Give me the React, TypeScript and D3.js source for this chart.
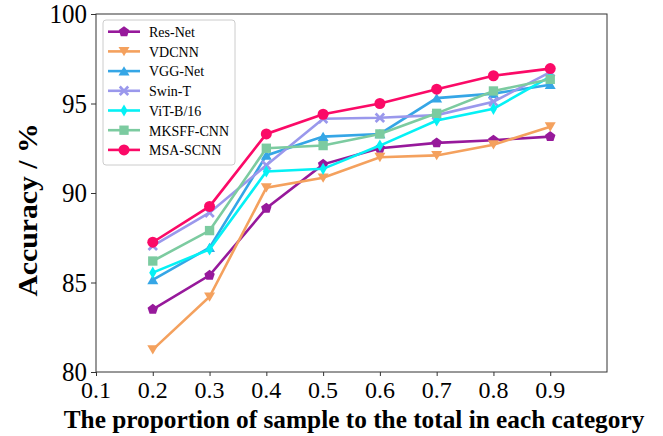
import { useEffect, useRef } from "react";
import * as d3 from "d3";

// x positions (proportion of samples)
const proportions = [0.2, 0.3, 0.4, 0.5, 0.6, 0.7, 0.8, 0.9];
const xTicks = [0.1, 0.2, 0.3, 0.4, 0.5, 0.6, 0.7, 0.8, 0.9];
const yTicks = [80, 85, 90, 95, 100];

const resNet = [83.5, 85.4, 89.15, 91.6, 92.5, 92.8, 92.95, 93.15];
const vdcnn = [81.25, 84.2, 90.3, 90.85, 92.0, 92.1, 92.7, 93.7];
const vggNet = [85.15, 86.95, 92.1, 93.15, 93.3, 95.3, 95.55, 96.05];
const swinT = [87.05, 88.9, 91.55, 94.15, 94.2, 94.35, 95.1, 96.75];
const vit = [85.55, 86.85, 91.2, 91.35, 92.65, 94.05, 94.7, 96.5];
const mksff = [86.2, 87.9, 92.5, 92.65, 93.3, 94.45, 95.7, 96.35];
const msaScnn = [87.25, 89.25, 93.3, 94.4, 95.0, 95.8, 96.55, 96.95];

const seriesNames = ["Res-Net", "VDCNN", "VGG-Net", "Swin-T", "ViT-B/16", "MKSFF-CNN", "MSA-SCNN"];
const seriesValues = [resNet, vdcnn, vggNet, swinT, vit, mksff, msaScnn];
const seriesColors = ["#97199b", "#f4a15e", "#35a6e6", "#9a98ec", "#05f1f5", "#7ccba0", "#fb0a67"];
const seriesMarkers = ["pentagon", "triDown", "triUp", "x", "diamond", "square", "circle"];

const W = 663;
const H = 436;
const margin = { top: 14, right: 56, bottom: 64, left: 96 };
const FONT = "'Liberation Serif', 'Times New Roman', serif";
const STRETCH = 1.1; // the original figure's text looks a bit taller than wide

function markerPath(kind: string, r: number): string {
  const pts = (arr: [number, number][]) => "M" + arr.map(p => p.join(",")).join("L") + "Z";
  switch (kind) {
    case "pentagon": {
      const a: [number, number][] = d3.range(5).map(i => {
        const t = -Math.PI / 2 + (i * 2 * Math.PI) / 5;
        return [r * Math.cos(t), r * Math.sin(t)];
      });
      return pts(a);
    }
    case "triDown":
      return pts([[-r, -r * 0.8], [r, -r * 0.8], [0, r * 0.9]]);
    case "triUp":
      return pts([[-r, r * 0.8], [r, r * 0.8], [0, -r * 0.9]]);
    case "diamond":
      return pts([[0, -r * 1.1], [r * 0.65, 0], [0, r * 1.1], [-r * 0.65, 0]]);
    case "square":
      return pts([[-r * 0.85, -r * 0.85], [r * 0.85, -r * 0.85], [r * 0.85, r * 0.85], [-r * 0.85, r * 0.85]]);
    case "x": {
      const a = r * 0.95, b = r * 0.35;
      return pts([
        [-a, -a + b], [-a + b, -a], [0, -b], [a - b, -a], [a, -a + b], [b, 0],
        [a, a - b], [a - b, a], [0, b], [-a + b, a], [-a, a - b], [-b, 0],
      ]);
    }
    default:
      return d3.symbol(d3.symbolCircle, Math.PI * r * r)() as string;
  }
}

export default function App() {
  const ref = useRef<SVGSVGElement>(null);

  useEffect(() => {
    if (!ref.current) return;
    const svg = d3.select(ref.current);
    svg.selectAll("*").remove();

    const x = d3.scaleLinear().domain([0.1, 1.0]).range([margin.left, W - margin.right]);
    const y = d3.scaleLinear().domain([80, 100]).range([H - margin.bottom, margin.top]);

    // frame
    svg.append("rect")
      .attr("x", margin.left)
      .attr("y", margin.top)
      .attr("width", W - margin.left - margin.right)
      .attr("height", H - margin.top - margin.bottom)
      .attr("fill", "none")
      .attr("stroke", "#333")
      .attr("stroke-width", 1);

    // tick marks
    const xAxis = svg.append("g")
      .attr("transform", `translate(0,${H - margin.bottom})`)
      .call(d3.axisBottom(x).tickValues(xTicks).tickFormat(() => "").tickSize(4));
    xAxis.select(".domain").remove();
    xAxis.selectAll("line").attr("stroke", "#333");

    const yAxis = svg.append("g")
      .attr("transform", `translate(${margin.left},0)`)
      .call(d3.axisLeft(y).tickValues(yTicks).tickFormat(() => "").tickSize(5));
    yAxis.select(".domain").remove();
    yAxis.selectAll("line").attr("stroke", "#333");

    // tick labels
    svg.append("g").selectAll("text")
      .data(xTicks)
      .enter()
      .append("text")
      .attr("x", d => x(d))
      .attr("y", H - margin.bottom + 26)
      .attr("text-anchor", "middle")
      .style("font-family", FONT)
      .style("font-size", "24px")
      .text(d => d3.format(".1f")(d));

    svg.append("g").selectAll("text")
      .data(yTicks)
      .enter()
      .append("text")
      .attr("transform", d => `translate(${margin.left - 9},${y(d)}) scale(1,${STRETCH})`)
      .attr("text-anchor", "end")
      .attr("dy", "0.34em")
      .style("font-family", FONT)
      .style("font-size", "25px")
      .text(d => d);

    // axis titles
    svg.append("text")
      .attr("x", 354)
      .attr("y", 428)
      .attr("text-anchor", "middle")
      .style("font-family", FONT)
      .style("font-size", "25.3px")
      .style("font-weight", "bold")
      .text("The proportion of sample to the total in each category");

    svg.append("text")
      .attr("transform", `translate(37,210) scale(1,${STRETCH}) rotate(-90)`)
      .attr("text-anchor", "middle")
      .style("font-family", FONT)
      .style("font-size", "27px")
      .style("font-weight", "bold")
      .text("Accuracy / %");

    const line = d3.line<number>()
      .x((_, i) => x(proportions[i]))
      .y(d => y(d));

    seriesValues.forEach((vals, si) => {
      const g = svg.append("g");
      g.append("path")
        .attr("d", line(vals))
        .attr("fill", "none")
        .attr("stroke", seriesColors[si])
        .attr("stroke-width", 2.6);
      g.selectAll("path.m")
        .data(vals)
        .enter()
        .append("path")
        .attr("class", "m")
        .attr("d", markerPath(seriesMarkers[si], 5.5))
        .attr("transform", (d, i) => `translate(${x(proportions[i])},${y(d)})`)
        .attr("fill", seriesColors[si]);
    });

    // legend
    const lg = svg.append("g").attr("transform", "translate(103,20)");
    lg.append("rect")
      .attr("width", 132)
      .attr("height", 145)
      .attr("rx", 3)
      .attr("fill", "#fff")
      .attr("fill-opacity", 0.85)
      .attr("stroke", "#ccc");
    seriesNames.forEach((name, i) => {
      const cy = 11.7 + i * 19.7;
      lg.append("line")
        .attr("x1", 5).attr("x2", 37)
        .attr("y1", cy).attr("y2", cy)
        .attr("stroke", seriesColors[i])
        .attr("stroke-width", 2.6);
      lg.append("path")
        .attr("d", markerPath(seriesMarkers[i], 5.5))
        .attr("transform", `translate(21,${cy})`)
        .attr("fill", seriesColors[i]);
      lg.append("text")
        .attr("transform", `translate(46,${cy}) scale(1,${STRETCH})`)
        .attr("dy", "0.35em")
        .style("font-family", FONT)
        .style("font-size", "14px")
        .text(name);
    });
  }, []);

  return (
    <svg ref={ref} width={W} height={H} style={{ display: "block", position: "absolute", left: 0, top: 0 }} />
  );
}
